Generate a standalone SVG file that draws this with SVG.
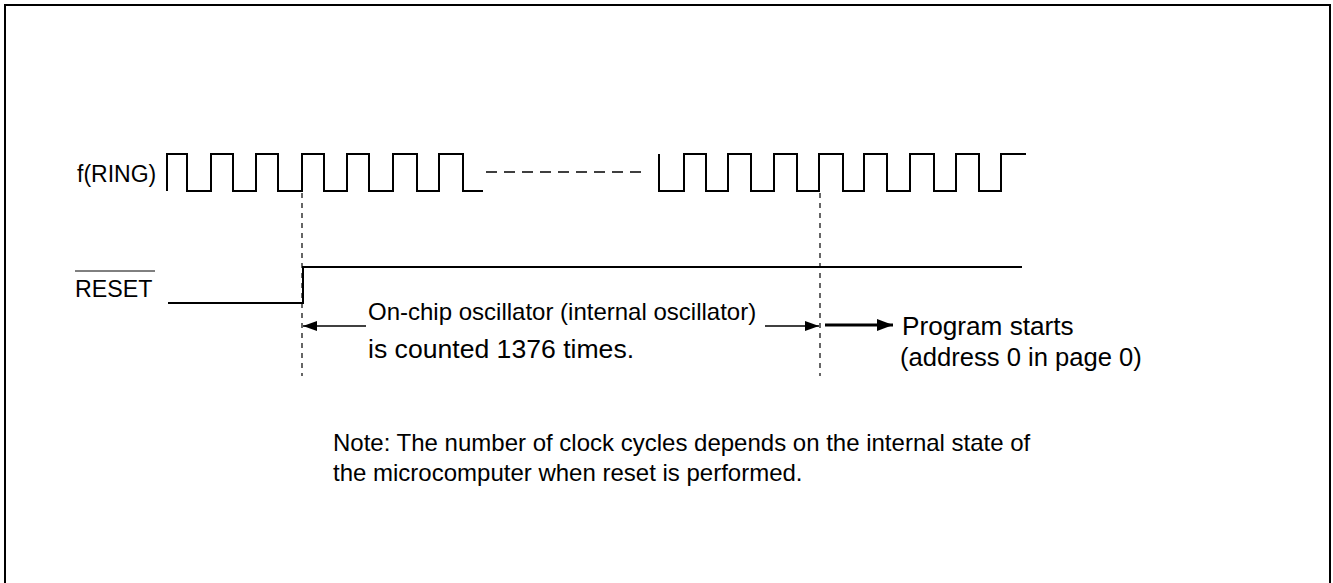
<svg xmlns="http://www.w3.org/2000/svg" width="1333" height="583" viewBox="0 0 1333 583">
<style>
  text { font-family: "Liberation Sans", Arial, sans-serif; fill: #000; }
  .sig { fill: none; stroke: #000; stroke-width: 2; }
  .guide { fill: none; stroke: #000; stroke-width: 1.2; stroke-dasharray: 5 5; }
  .arr { fill: none; stroke: #000; stroke-width: 1.5; }
  .arrThick { fill: none; stroke: #000; stroke-width: 3; }
</style>
<defs>
  <marker id="ah" markerWidth="14" markerHeight="10" refX="14" refY="5" orient="auto" markerUnits="userSpaceOnUse">
    <path d="M0,0 L14,5 L0,10 Z" fill="#000"/>
  </marker>
  <marker id="ahBig" markerWidth="16" markerHeight="12" refX="16" refY="6" orient="auto" markerUnits="userSpaceOnUse">
    <path d="M0,0 L16,6 L0,12 Z" fill="#000"/>
  </marker>
</defs>
<rect x="0" y="0" width="1333" height="583" fill="#fff"/>
<rect id="frame" x="5" y="5" width="1325" height="620" fill="none" stroke="#000" stroke-width="2"/>

<g id="fring">
  <text x="77" y="182" font-size="23">f(RING)</text>
  <path class="sig" d="M167,191 V154 H187 V191 H211 V154 H233 V191 H256 V154 H278 V191 H302 V154 H324 V191 H347 V154 H369 V191 H393 V154 H417 V191 H439 V154 H463 V191 H483"/>
  <line x1="486" y1="172" x2="645" y2="172" stroke="#000" stroke-width="1.5" stroke-dasharray="11 7"/>
  <path class="sig" d="M659,154 V191 H684 V154 H706 V191 H728 V154 H751 V191 H774 V154 H797 V191 H819 V154 H843 V191 H864 V154 H887 V191 H910 V154 H934 V191 H956 V154 H979 V191 H1001 V154 H1026"/>
</g>

<g id="reset">
  <text x="75" y="297" font-size="23.2">RESET</text>
  <line x1="75" y1="271" x2="155" y2="271" stroke="#000" stroke-width="1"/>
  <path class="sig" d="M168,303 H303 V267 H1022"/>
</g>

<g id="guides">
  <line class="guide" x1="302" y1="193" x2="302" y2="376"/>
  <line class="guide" x1="820" y1="193" x2="820" y2="376"/>
</g>

<g id="connectors">
  <line class="arr" x1="366" y1="326" x2="303" y2="326" marker-end="url(#ah)"/>
  <line class="arr" x1="765" y1="326" x2="819" y2="326" marker-end="url(#ah)"/>
  <line class="arrThick" x1="825" y1="325" x2="893" y2="325" marker-end="url(#ahBig)"/>
</g>

<g id="count-label">
  <text x="368" y="320" font-size="24">On-chip oscillator (internal oscillator)</text>
  <text x="368" y="358" font-size="26.6">is counted 1376 times.</text>
</g>

<g id="program-label">
  <text x="902" y="335" font-size="26.2">Program starts</text>
  <text x="900" y="366" font-size="25.6">(address 0 in page 0)</text>
</g>

<g id="note">
  <text x="333" y="451" font-size="24">Note: The number of clock cycles depends on the internal state of</text>
  <text x="333" y="481" font-size="24">the microcomputer when reset is performed.</text>
</g>
</svg>
